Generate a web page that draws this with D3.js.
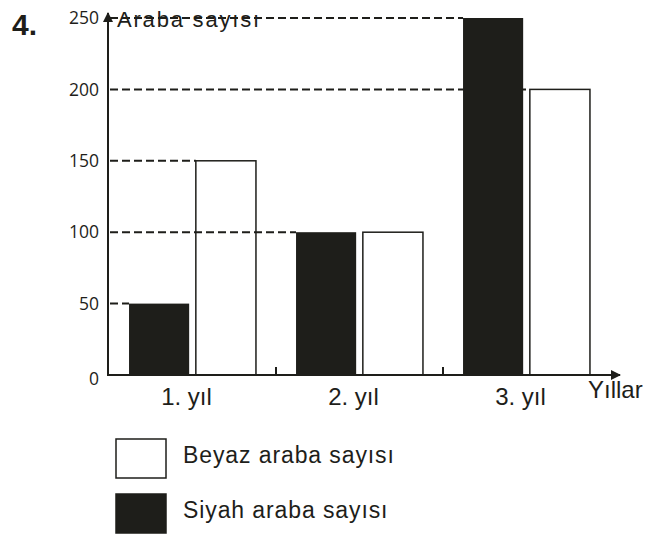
<!DOCTYPE html>
<html>
<head>
<meta charset="utf-8">
<script src="https://cdn.jsdelivr.net/npm/d3@7"></script>
<style>
  body { margin: 0; background: #fff; }
  svg { display: block; }
</style>
</head>
<body>
<div class="board"></div>
<script>
// data
var years = ['1. yıl', '2. yıl', '3. yıl'];
var series = ['siyah', 'beyaz'];
var siyah = [50, 100, 250];
var beyaz = [150, 100, 200];
var yTicks = [0, 50, 100, 150, 200, 250];
var legendItems = [
  { key: 'beyaz', label: 'Beyaz araba sayısı' },
  { key: 'siyah', label: 'Siyah araba sayısı' }
];

var ink = '#1e1e1a';
var fills = { siyah: ink, beyaz: '#fff' };
var sans = 'Liberation Sans, Arial, sans-serif';

var board = d3.select('.board').append('svg')
  .attr('width', 663)
  .attr('height', 537);

var x0 = d3.scaleBand().domain(years).range([109, 610]);
var x1 = d3.scaleBand().domain(series).range([0, x0.bandwidth()])
  .paddingInner(0.1).paddingOuter(0.3);
var y = d3.scaleLinear().domain([0, 250]).range([375, 18]);

var bars = [];
years.forEach(function (yr, i) {
  bars.push({ year: yr, key: 'siyah', value: siyah[i] });
  bars.push({ year: yr, key: 'beyaz', value: beyaz[i] });
});
var barX = function (d) { return x0(d.year) + x1(d.key); };

// bars
board.selectAll('rect.bar').data(bars)
  .enter().append('rect')
  .attr('class', 'bar')
  .attr('x', barX)
  .attr('y', function (d) { return y(d.value); })
  .attr('width', x1.bandwidth())
  .attr('height', function (d) { return y(0) - y(d.value); })
  .attr('fill', function (d) { return fills[d.key]; })
  .attr('stroke', function (d) { return d.key === 'beyaz' ? ink : 'none'; })
  .attr('stroke-width', 1.5);

// dashed guide lines from the axis to the first bar holding that value
var guides = yTicks.filter(function (t) { return t > 0; }).map(function (t) {
  var hit = bars.find(function (b) { return b.value === t; });
  return { value: t, x2: hit ? barX(hit) : x0.range()[1] };
});

board.selectAll('line.guide').data(guides)
  .enter().append('line')
  .attr('class', 'guide')
  .attr('x1', 110)
  .attr('x2', function (d) { return d.x2; })
  .attr('y1', function (d) { return y(d.value); })
  .attr('y2', function (d) { return y(d.value); })
  .attr('stroke', ink)
  .attr('stroke-width', 2)
  .attr('stroke-dasharray', '8,4');

// little separators between groups
board.selectAll('line.sep').data(years.slice(1))
  .enter().append('line')
  .attr('class', 'sep')
  .attr('x1', function (d) { return x0(d); })
  .attr('x2', function (d) { return x0(d); })
  .attr('y1', y(0))
  .attr('y2', y(0) - 8)
  .attr('stroke', ink)
  .attr('stroke-width', 2);

// axes with arrowheads
var defs = board.append('defs');
defs.append('marker')
  .attr('id', 'arrow')
  .attr('viewBox', '0 0 10 10')
  .attr('refX', 9).attr('refY', 5)
  .attr('markerWidth', 5).attr('markerHeight', 5)
  .attr('orient', 'auto')
  .append('path')
  .attr('d', 'M0,0 L10,5 L0,10 Z')
  .attr('fill', ink);

board.append('line')
  .attr('x1', 108).attr('y1', y(0) + 1)
  .attr('x2', 108).attr('y2', 13)
  .attr('stroke', ink).attr('stroke-width', 2)
  .attr('marker-end', 'url(#arrow)');

board.append('line')
  .attr('x1', 107).attr('y1', y(0))
  .attr('x2', 620).attr('y2', y(0))
  .attr('stroke', ink).attr('stroke-width', 2)
  .attr('marker-end', 'url(#arrow)');

// y tick labels
board.selectAll('text.ytick').data(yTicks)
  .enter().append('text')
  .attr('class', 'ytick')
  .attr('x', 99)
  .attr('y', function (d) { return y(d) + (d === 0 ? 4 : 0); })
  .attr('dy', '0.35em')
  .attr('text-anchor', 'end')
  .attr('font-family', 'Open Sans, sans-serif')
  .attr('font-size', 17.5)
  .attr('fill', ink)
  .text(function (d) { return d; });

// category labels
board.selectAll('text.xcat').data(years)
  .enter().append('text')
  .attr('class', 'xcat')
  .attr('x', function (d) { return x0(d) + x0.bandwidth() / 2 - 6; })
  .attr('y', 405)
  .attr('text-anchor', 'middle')
  .attr('font-family', sans)
  .attr('font-size', 24)
  .attr('fill', ink)
  .text(function (d) { return d; });

board.append('text')
  .attr('x', 588).attr('y', 398)
  .attr('font-family', sans)
  .attr('font-size', 24)
  .attr('fill', ink)
  .text('Yıllar');

board.append('text')
  .attr('x', 117).attr('y', 27)
  .attr('font-family', sans)
  .attr('font-size', 22)
  .attr('letter-spacing', 1.8)
  .attr('fill', ink)
  .text('Araba sayısı');

board.append('text')
  .attr('x', 12).attr('y', 35)
  .attr('font-family', sans)
  .attr('font-weight', 'bold')
  .attr('font-size', 30)
  .attr('fill', ink)
  .text('4.');

// legend
var legend = board.selectAll('g.legend').data(legendItems)
  .enter().append('g')
  .attr('class', 'legend')
  .attr('transform', function (d, i) { return 'translate(116,' + (439 + i * 55) + ')'; });

legend.append('rect')
  .attr('width', 50).attr('height', 39)
  .attr('fill', function (d) { return fills[d.key]; })
  .attr('stroke', ink)
  .attr('stroke-width', 1.5);

legend.append('text')
  .attr('x', 67).attr('y', 24)
  .attr('font-family', sans)
  .attr('font-size', 23)
  .attr('letter-spacing', 0.9)
  .attr('fill', ink)
  .text(function (d) { return d.label; });
</script>
</body>
</html>
